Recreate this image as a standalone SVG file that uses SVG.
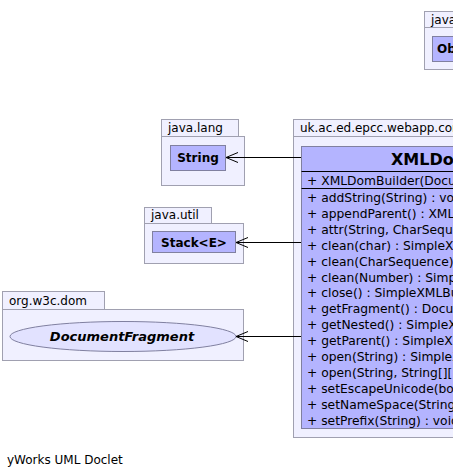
<svg xmlns="http://www.w3.org/2000/svg" width="453" height="475" viewBox="0 0 453 475">
<style>
text{font-family:"DejaVu Sans","Liberation Sans",sans-serif;font-size:12px;fill:#000}
.pkg{fill:#F0F0FF;stroke:#A0A0B0;stroke-width:1}
.cls{fill:#B4B4FF;stroke:#8080A0;stroke-width:1}
.ell{fill:#E2E2FF;stroke:#8080A0;stroke-width:1}
.t{font-weight:bold}
.big{font-size:16px}
.m{font-size:12.3px}
.it{font-style:italic;font-size:13px}
.sep{stroke:#000;stroke-width:1}
.edge{stroke:#000;stroke-width:1;fill:none}
</style>
<defs>
<marker id="open" viewBox="0 0 12 12" refX="12" refY="6" markerWidth="12" markerHeight="12" markerUnits="userSpaceOnUse" orient="auto">
<path d="M0,1 L12,6 L0,11" fill="none" stroke="#000" stroke-width="1"/>
</marker>
</defs>
<g id="pkg-java-lang-top">
<rect class="pkg" x="424.5" y="11.5" width="70" height="16"/>
<rect class="pkg" x="424.5" y="27.5" width="100" height="42"/>
<text x="431" y="24">java.lang</text>
<g id="Object">
<rect class="cls" x="432.5" y="36.5" width="60" height="25"/>
<text class="t" x="437" y="53">Object</text>
</g>
</g>
<g id="pkg-java-lang">
<rect class="pkg" x="161.5" y="119.5" width="77" height="17"/>
<rect class="pkg" x="161.5" y="136.5" width="83" height="49"/>
<text x="168" y="132">java.lang</text>
<g id="String">
<rect class="cls" x="170.5" y="145.5" width="55" height="25"/>
<text class="t" x="198" y="162" text-anchor="middle">String</text>
</g>
</g>
<g id="pkg-java-util">
<rect class="pkg" x="144.5" y="207.5" width="67" height="16"/>
<rect class="pkg" x="144.5" y="223.5" width="99" height="40"/>
<text x="151" y="219">java.util</text>
<g id="Stack">
<rect class="cls" x="152.5" y="231.5" width="83" height="21"/>
<text class="t" x="194" y="247" text-anchor="middle">Stack&lt;E&gt;</text>
</g>
</g>
<g id="pkg-org-w3c-dom">
<rect class="pkg" x="2.5" y="291.5" width="102" height="18"/>
<rect class="pkg" x="2.5" y="309.5" width="241" height="51"/>
<text x="9" y="305">org.w3c.dom</text>
<g id="DocumentFragment">
<ellipse class="ell" cx="123" cy="336.5" rx="113" ry="15"/>
<text class="t it" x="122" y="341" text-anchor="middle">DocumentFragment</text>
</g>
</g>
<g id="pkg-content">
<rect class="pkg" x="293.5" y="119.5" width="200" height="17"/>
<rect class="pkg" x="293.5" y="136.5" width="340" height="301"/>
<text x="300" y="132">uk.ac.ed.epcc.webapp.content</text>
<g id="XMLDomBuilder">
<rect class="cls" x="301.5" y="146.5" width="320" height="282"/>
<text class="t big" x="391" y="164.5">XMLDomBuilder</text>
<line class="sep" x1="301.5" y1="171.5" x2="622" y2="171.5"/>
<text class="m" x="307" y="185">+ XMLDomBuilder(DocumentFragment)</text>
<line class="sep" x1="301.5" y1="188.5" x2="622" y2="188.5"/>
<text class="m" x="307" y="202">+ addString(String) : void</text>
<text class="m" x="307" y="217.9">+ appendParent() : XMLBuilder</text>
<text class="m" x="307" y="233.8">+ attr(String, CharSequence) : SimpleXMLBuilder</text>
<text class="m" x="307" y="249.7">+ clean(char) : SimpleXMLBuilder</text>
<text class="m" x="307" y="265.6">+ clean(CharSequence) : SimpleXMLBuilder</text>
<text class="m" x="307" y="281.5">+ clean(Number) : SimpleXMLBuilder</text>
<text class="m" x="307" y="297.4">+ close() : SimpleXMLBuilder</text>
<text class="m" x="307" y="313.3">+ getFragment() : DocumentFragment</text>
<text class="m" x="307" y="329.2">+ getNested() : SimpleXMLBuilder</text>
<text class="m" x="307" y="345.1">+ getParent() : SimpleXMLBuilder</text>
<text class="m" x="307" y="361">+ open(String) : SimpleXMLBuilder</text>
<text class="m" x="307" y="376.9">+ open(String, String[][]) : SimpleXMLBuilder</text>
<text class="m" x="307" y="392.8">+ setEscapeUnicode(boolean) : boolean</text>
<text class="m" x="307" y="408.7">+ setNameSpace(String) : void</text>
<text class="m" x="307" y="424.6">+ setPrefix(String) : void</text>
</g>
</g>
<g id="connectors">
<line class="edge" x1="301" y1="157.5" x2="226" y2="157.5" marker-end="url(#open)"/>
<line class="edge" x1="301" y1="242.5" x2="236" y2="242.5" marker-end="url(#open)"/>
<line class="edge" x1="301" y1="336.5" x2="236" y2="336.5" marker-end="url(#open)"/>
</g>
<text x="7" y="464">yWorks UML Doclet</text>
</svg>
